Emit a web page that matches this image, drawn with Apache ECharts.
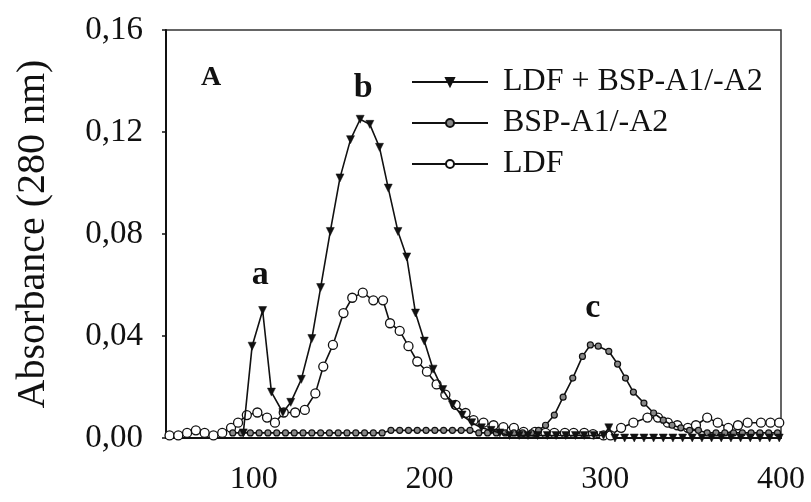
<!DOCTYPE html>
<html>
<head>
<meta charset="utf-8">
<script src="https://cdn.jsdelivr.net/npm/echarts@6/dist/echarts.min.js"></script>
<style>
  html, body { margin: 0; padding: 0; background: #fff; }
  #chart { width: 811px; height: 502px; }
</style>
</head>
<body>
<div id="chart"></div>
<script>
// Elution profiles, absorbance at 280 nm vs. elution volume
const seriesNames = ['LDF + BSP-A1/-A2', 'BSP-A1/-A2', 'LDF'];

const xTicks = [100, 200, 300, 400];
const yTicks = [0, 0.04, 0.08, 0.12, 0.16];

// LDF + BSP-A1/-A2 mixture: [volume, absorbance]
const mixData = [
  [94, 0.002], [99, 0.036], [105, 0.050], [110, 0.018], [116.5, 0.010],
  [121, 0.014], [127, 0.023], [133, 0.039], [138, 0.059], [143.5, 0.081],
  [149, 0.102], [155, 0.117], [160.5, 0.125], [166, 0.123], [171.5, 0.114],
  [176.5, 0.098], [182, 0.081], [187, 0.071], [192, 0.049], [197, 0.038],
  [202, 0.027], [207.5, 0.019], [213, 0.013], [218.5, 0.009], [224, 0.006],
  [229.5, 0.004], [235, 0.003], [240, 0.002], [245.5, 0.001], [251, 0.001],
  [256, 0.001], [261.5, 0.001], [267, 0.001], [272, 0.001], [277.5, 0.001],
  [283, 0.001], [288, 0.001], [293.5, 0.001], [299, 0.001], [302, 0.004],
  [305.5, 0.000], [311, 0.000], [316.5, 0.000], [322, 0.000], [327.5, 0.000],
  [333, 0.000], [338.5, 0.000], [344, 0.000], [349.5, 0.000], [355, 0.000],
  [360.5, 0.000], [366, 0.000], [371.5, 0.000], [377, 0.000], [382.5, 0.000],
  [388, 0.000], [393.5, 0.000], [399, 0.000]
];

// BSP-A1/-A2 alone
const bspData = [
  [88, 0.002], [93, 0.002], [98, 0.002], [103, 0.002], [108, 0.002],
  [113, 0.002], [118, 0.002], [123, 0.002], [128, 0.002], [133, 0.002],
  [138, 0.002], [143, 0.002], [148, 0.002], [153, 0.002], [158, 0.002],
  [163, 0.002], [168, 0.002], [173, 0.002], [178, 0.003], [183, 0.003],
  [188, 0.003], [193, 0.003], [198, 0.003], [203, 0.003], [208, 0.003],
  [213, 0.003], [218, 0.003], [223, 0.003], [228, 0.002], [233, 0.002],
  [238, 0.002], [243, 0.002], [248, 0.002], [253, 0.002], [258, 0.002],
  [262, 0.003], [266, 0.005], [271, 0.009], [276, 0.016], [281.5, 0.0235],
  [287, 0.032], [291.5, 0.0365], [296, 0.036], [302, 0.034], [307, 0.029],
  [311.5, 0.0235], [316, 0.018], [322, 0.0137], [327.5, 0.0098], [333, 0.007],
  [338, 0.005], [343, 0.004], [348, 0.003], [353, 0.003], [358, 0.002],
  [363, 0.002], [368, 0.002], [373, 0.002], [378, 0.002], [383, 0.002],
  [388, 0.002], [393, 0.002], [398, 0.002]
];

// LDF alone
const ldfData = [
  [52, 0.001], [57, 0.001], [62, 0.002], [67, 0.003], [72, 0.002],
  [77, 0.001], [82, 0.002], [87, 0.004], [91, 0.006], [96, 0.009],
  [102, 0.010], [107.5, 0.008], [112, 0.006], [117, 0.010], [123.5, 0.010],
  [129, 0.011], [135, 0.0175], [139.5, 0.028], [145, 0.0365], [151, 0.049],
  [156, 0.055], [162, 0.057], [168, 0.054], [173.5, 0.054], [177.5, 0.045],
  [183, 0.042], [188, 0.036], [193, 0.030], [198.5, 0.026], [204, 0.021],
  [209, 0.017], [214.8, 0.013], [220.5, 0.0098], [225, 0.007], [230.7, 0.006],
  [236.4, 0.005], [242, 0.0043], [248, 0.004], [253.5, 0.0024], [260, 0.0024],
  [266, 0.002], [271, 0.002], [277, 0.002], [282, 0.002], [288, 0.002],
  [293, 0.0015], [299, 0.001], [303, 0.001], [309, 0.004], [316, 0.006],
  [324, 0.008], [330, 0.008], [335.6, 0.006], [341, 0.005], [347, 0.004],
  [351.6, 0.005], [358, 0.008], [364, 0.006], [370, 0.004], [375.5, 0.005],
  [381, 0.006], [388.6, 0.006], [394, 0.006], [399, 0.006]
];

// Peak letters placed at [volume, absorbance]
const peakLabels = [
  { name: 'a', coord: [103.6, 0.064] },
  { name: 'b', coord: [162.3, 0.137] },
  { name: 'c', coord: [292.9, 0.051] }
];

const ink = '#111';
const serif = '"Liberation Serif", "Times New Roman", serif';

const chart = echarts.init(document.getElementById('chart'), null, { renderer: 'canvas' });

chart.setOption({
  backgroundColor: '#fff',
  animation: false,
  grid: { left: 166, right: 30, top: 30, bottom: 64, show: true, borderColor: '#333', borderWidth: 1.5, backgroundColor: 'transparent' },
  legend: {
    orient: 'vertical',
    left: 406,
    top: 61,
    itemWidth: 76,
    itemHeight: 10,
    itemGap: 9,
    textStyle: { fontFamily: serif, fontSize: 32, color: ink, lineHeight: 32, padding: [0, 0, 0, 10] },
    data: seriesNames
  },
  xAxis: {
    type: 'value',
    min: 50,
    max: 400,
    interval: 50,
    axisLine: { show: true, lineStyle: { color: ink, width: 2 } },
    axisTick: { show: false },
    splitLine: { show: false },
    axisLabel: {
      margin: 26,
      fontFamily: serif,
      fontSize: 32,
      color: ink,
      formatter: v => (xTicks.indexOf(v) >= 0 ? String(v) : '')
    }
  },
  yAxis: {
    type: 'value',
    min: yTicks[0],
    max: yTicks[yTicks.length - 1],
    interval: 0.04,
    name: 'Absorbance (280 nm)',
    nameLocation: 'middle',
    nameGap: 113,
    nameTextStyle: { fontFamily: serif, fontSize: 40, color: ink },
    axisLine: { show: true, lineStyle: { color: ink, width: 2 } },
    axisTick: { show: true, length: 4, lineStyle: { color: ink, width: 1.5 } },
    splitLine: { show: false },
    axisLabel: {
      margin: 23,
      fontFamily: serif,
      fontSize: 33,
      color: ink,
      formatter: v => v.toFixed(2).replace('.', ',')
    }
  },
  graphic: [
    { type: 'text', left: 201, top: 64, style: { text: 'A', fontFamily: serif, fontWeight: 'bold', fontSize: 28, fill: ink } }
  ],
  series: [
    {
      name: seriesNames[0],
      type: 'line',
      data: mixData,
      symbol: 'triangle',
      symbolRotate: 180,
      symbolSize: 8,
      showAllSymbol: true,
      z: 4,
      lineStyle: { color: ink, width: 1.6 },
      itemStyle: { color: ink, borderColor: ink, borderWidth: 0.5 },
      markPoint: {
        symbol: 'rect',
        symbolSize: 1,
        symbolRotate: 0,
        itemStyle: { color: 'rgba(0,0,0,0)', borderWidth: 0 },
        label: {
          show: true,
          position: 'inside',
          fontFamily: serif,
          fontWeight: 'bold',
          fontSize: 34,
          color: ink,
          formatter: p => p.name
        },
        data: peakLabels
      }
    },
    {
      name: seriesNames[1],
      type: 'line',
      data: bspData,
      symbol: 'circle',
      symbolSize: 6,
      showAllSymbol: true,
      z: 3,
      lineStyle: { color: ink, width: 1.6 },
      itemStyle: { color: '#888', borderColor: ink, borderWidth: 1.2 }
    },
    {
      name: seriesNames[2],
      type: 'line',
      data: ldfData,
      symbol: 'circle',
      symbolSize: 9,
      showAllSymbol: true,
      z: 2,
      lineStyle: { color: ink, width: 1.6 },
      itemStyle: { color: '#fff', borderColor: ink, borderWidth: 1.3 }
    }
  ]
});
</script>
</body>
</html>
